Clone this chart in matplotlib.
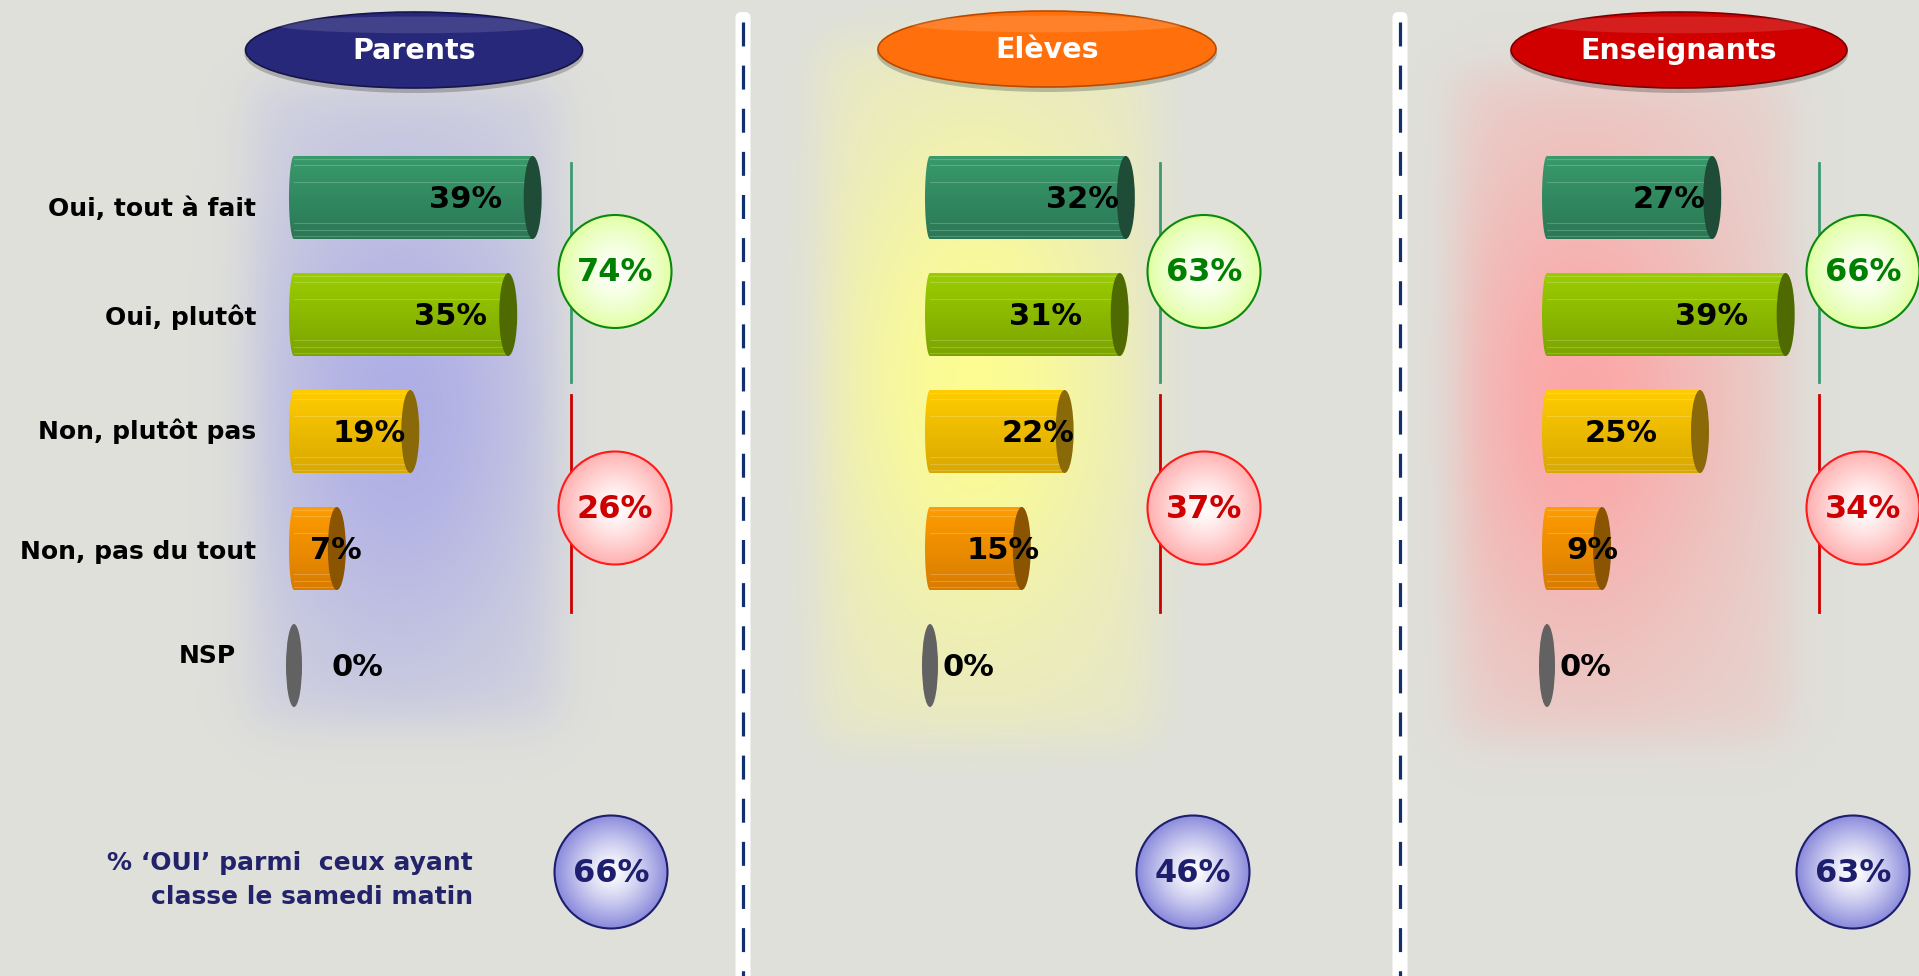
import numpy as np
import matplotlib
matplotlib.use('Agg')
import matplotlib.pyplot as plt
import matplotlib.colors as mcolors
from matplotlib.patches import Ellipse, Circle, PathPatch, FancyBboxPatch
from matplotlib.path import Path

# ---------------- data ----------------
categories = ['Oui, tout à fait', 'Oui, plutôt', 'Non, plutôt pas', 'Non, pas du tout', 'NSP']
groups = ['Parents', 'Elèves', 'Enseignants']
parents = [39, 35, 19, 7, 0]
eleves = [32, 31, 22, 15, 0]
enseignants = [27, 39, 25, 9, 0]
oui_samedi = [66, 46, 63]
bottom_label = ['% \u2018OUI\u2019 parmi  ceux ayant', 'classe le samedi matin']

# ---------------- layout / style ----------------
W, H = 1919, 976
K = 6.12                      # px per percent
ORIGINS = [294, 930, 1547]    # px, x of 0 %
ROW0, ROW_STEP = 197.5, 117.0
BAR_H = 83.0 / ROW_STEP
LABEL_OFF = [[-31, -21, -5, 25, 89], [-7, -38, 10, 18, 64], [-7, -38, -42, 16, 64]]
CAT_DY = [11.5, 2.5, 0, 3.5, -9.5]
CAT_X = [256, 256, 256, 256, 236]
HEADERS = [(414, 50, 337, 76, '#28287A', '#15154A'),
           (1047, 49, 338, 76, '#FF700D', '#B84A00'),
           (1679, 50, 336, 76, '#D00000', '#7A0000')]
LINE_X = [571, 1160, 1819]
CIRC_DX = 44
BOTTOM_CX = [611, 1193, 1853]
SEP_X = [743, 1400]
BAR_TOP = ['#399A6B', '#9ACD00', '#FFCC00', '#FF9C00', '#666666']
BAR_BOT = ['#2A7855', '#7CA400', '#D9A800', '#D87C00', '#555555']
CAP = ['#1E4C37', '#4E6A00', '#8A6A08', '#8A5400', '#626262']
BG = '#DFE0DA'

fig = plt.figure(figsize=(W / 100, H / 100), dpi=100)
fig.patch.set_facecolor(BG)
bg = fig.add_axes([0, 0, 1, 1])
bg.set_facecolor(BG)
bg.axis('off')


def soft_box(t, a, b, s):
    return 1 / (1 + np.exp(-(t - a) / s)) / (1 + np.exp((t - b) / s))


def glow(x0, x1, y0, y1, cx, cy, rgb, amax):
    xs = np.arange(x0 - 60, x1 + 60, 2.0)
    ys = np.arange(y0 - 60, y1 + 60, 2.0)
    X, Y = np.meshgrid(xs, ys)
    box = soft_box(X, x0, x1, 14) * soft_box(Y, y0, y1, 14)
    r2 = ((X - cx) / 150) ** 2 + ((Y - cy) / 260) ** 2
    a = amax * box * (0.25 + 0.75 * np.exp(-r2))
    img = np.zeros(X.shape + (4,))
    img[..., :3] = np.array(rgb) / 255.0
    img[..., 3] = a
    bg.imshow(img, extent=(xs[0], xs[-1], ys[-1], ys[0]), origin='upper',
              aspect='auto', zorder=0.5, interpolation='bilinear')


glow(250, 560, 80, 725, 400, 410, (168, 168, 232), 0.88)
glow(820, 1155, 40, 740, 975, 380, (255, 255, 140), 0.92)
glow(1455, 1790, 70, 740, 1580, 400, (255, 160, 160), 0.88)

# separators
for sx in SEP_X:
    bg.add_patch(FancyBboxPatch((sx - 7.5, 12), 15, 1000,
                                boxstyle='round,pad=0,rounding_size=6',
                                fc='white', ec='none', zorder=2))
    bg.plot([sx, sx], [22, H], color='#12306E', lw=2.3,
            ls=(0, (7.5, 6.0)), zorder=3, solid_capstyle='butt')

# headers
for (cx, cy, w, h, col, dark), name in zip(HEADERS, groups):
    bg.add_patch(Ellipse((cx, cy + 4), w + 2, h + 2, fc='black', alpha=0.22, ec='none', zorder=3))
    bg.add_patch(Ellipse((cx, cy), w, h, fc=col, ec=dark, lw=1.2, zorder=4))
    bg.add_patch(Ellipse((cx, cy - h * 0.33), w * 0.82, h * 0.22, fc='white', alpha=0.12,
                         ec='none', zorder=5))
    bg.text(cx, cy + 1, name, color='white', fontsize=20.5, fontweight='bold',
            ha='center', va='center', zorder=6)


def grad_circle(cx, cy, r, inner, outer, edge, text, tcol):
    n = 240
    g = np.linspace(-1, 1, n)
    X, Y = np.meshgrid(g, g)
    R = np.clip(np.sqrt(X ** 2 + Y ** 2), 0, 1)
    c0 = np.array(mcolors.to_rgb(inner))
    c1 = np.array(mcolors.to_rgb(outer))
    img = c0 + (c1 - c0) * (R[..., None] ** 1.3)
    im = bg.imshow(img, extent=(cx - r, cx + r, cy + r, cy - r), aspect='auto',
                   zorder=7, interpolation='bilinear')
    circ = Circle((cx, cy), r, fc='none', ec=edge, lw=1.5, zorder=8)
    bg.add_patch(circ)
    im.set_clip_path(circ)
    bg.text(cx, cy + 1, text, color=tcol, fontsize=23, fontweight='bold',
            ha='center', va='center', zorder=9)


all_vals = [parents, eleves, enseignants]
for p, vals in enumerate(all_vals):
    lx = LINE_X[p]
    oui = vals[0] + vals[1]
    non = vals[2] + vals[3]
    bg.plot([lx, lx], [163, 382], color='#3D9A70', lw=2, zorder=6)
    bg.plot([lx, lx], [395, 612], color='#CC0000', lw=2, zorder=6)
    grad_circle(lx + CIRC_DX, 271.5, 56.5, '#FFFFFF', '#E2FFA6', '#0A8A0A', f'{oui}%', '#008000')
    grad_circle(lx + CIRC_DX, 508, 56.5, '#FFFFFF', '#FFB0B0', '#FF1A1A', f'{non}%', '#CC0000')
    grad_circle(BOTTOM_CX[p], 872, 56.5, '#FFFFFF', '#8A8ADC', '#1E1E6E', f'{oui_samedi[p]}%', '#1E1E6E')

bg.text(473, 863, bottom_label[0], ha='right', va='center', fontsize=18,
        fontweight='bold', color='#23236B', zorder=6)
bg.text(473, 897, bottom_label[1], ha='right', va='center', fontsize=18,
        fontweight='bold', color='#23236B', zorder=6)

bg.set_xlim(0, W)
bg.set_ylim(H, 0)

# ---------------- bar panels ----------------
top_px = ROW0 - ROW_STEP / 2
bot_px = ROW0 + ROW_STEP * 4.5
stripes = [0.04, 0.11, 0.31, 0.81, 0.89, 0.96]
for p, vals in enumerate(all_vals):
    origin = ORIGINS[p]
    left_px, right_px = origin - 60, origin + 300
    ax = fig.add_axes([left_px / W, 1 - bot_px / H, (right_px - left_px) / W, (bot_px - top_px) / H])
    ax.patch.set_alpha(0)
    ax.axis('off')
    y = np.arange(len(vals))
    ax.barh(y, vals, height=BAR_H, color=BAR_BOT, zorder=2, linewidth=0)
    lw = 5.0 / K
    for i, v in enumerate(vals):
        top, bot = i - BAR_H / 2, i + BAR_H / 2
        if v > 0:
            t = np.linspace(0, np.pi, 30)
            verts = [(v, top)] + [(-lw * np.sin(tt), i - BAR_H / 2 * np.cos(tt)) for tt in t] + [(v, bot), (v, top)]
            codes = [Path.MOVETO] + [Path.LINETO] * (len(verts) - 2) + [Path.CLOSEPOLY]
            patch = PathPatch(Path(verts, codes), fc='none', ec='none', zorder=2)
            ax.add_patch(patch)
            c0 = np.array(mcolors.to_rgb(BAR_TOP[i]))
            c1 = np.array(mcolors.to_rgb(BAR_BOT[i]))
            f = np.linspace(0, 1, 60)[:, None, None]
            img = np.repeat(c0 + (c1 - c0) * f, 2, axis=1)
            im = ax.imshow(img, extent=(-lw, v, bot, top), origin='upper', aspect='auto',
                           zorder=3, interpolation='bilinear')
            im.set_clip_path(patch)
            for s in stripes:
                ax.plot([0, v], [top + s * BAR_H] * 2, color='white', alpha=0.2, lw=0.8, zorder=3.5)
            ax.add_patch(Ellipse((v, i), 18.0 / K, BAR_H, fc=CAP[i], ec='none', zorder=4))
        else:
            ax.add_patch(Ellipse((v, i), 16.0 / K, BAR_H, fc=CAP[i], ec='none', zorder=4))
        ax.text(v + LABEL_OFF[p][i] / K, i + 0.02, f'{v}%', ha='right', va='center',
                fontsize=22, fontweight='bold', color='black', zorder=6)
        if p == 0:
            ax.text((CAT_X[i] - origin) / K, i + CAT_DY[i] / ROW_STEP, categories[i],
                    ha='right', va='center', fontsize=18, fontweight='bold',
                    color='black', zorder=6, clip_on=False)
    ax.set_xlim((left_px - origin) / K, (right_px - origin) / K)
    ax.set_ylim(4.5, -0.5)

fig.savefig('out.png', dpi=100, facecolor=BG)
